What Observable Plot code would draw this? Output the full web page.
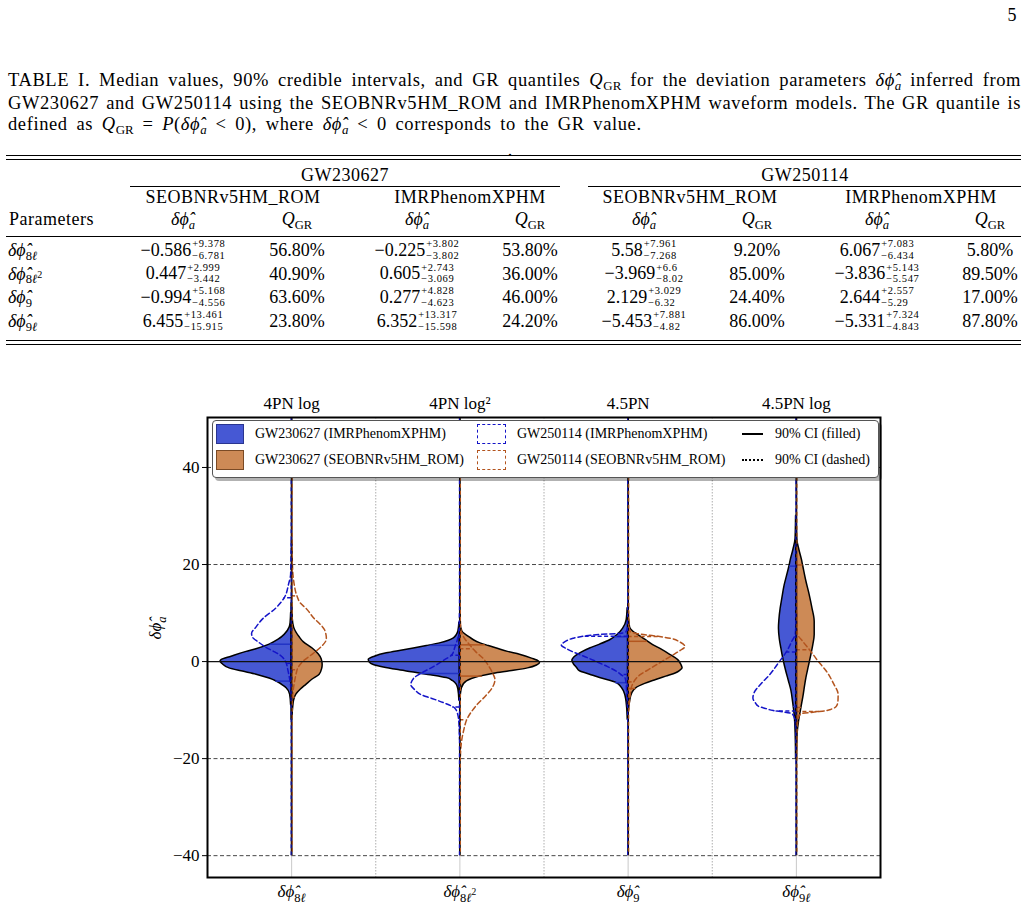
<!DOCTYPE html>
<html>
<head>
<meta charset="utf-8">
<script src="https://cdn.jsdelivr.net/npm/d3@7"></script>
<script src="https://cdn.jsdelivr.net/npm/@observablehq/plot@0.6"></script>
<style>
  html, body { margin: 0; padding: 0; background: #fff; }
  body { position: relative; width: 1029px; height: 913px; overflow: hidden;
         font-family: "Liberation Serif", "Times New Roman", serif; color: #000; }
  .abs { position: absolute; white-space: nowrap; line-height: 1; }
  .ctr { transform: translate(-50%, -50%); }
  .lft { transform: translateY(-50%); }
  .hr { position: absolute; height: 0; border-top: 1px solid #000; }
  .caption { position: absolute; left: 8px; top: 70px; width: 1013px; font-size: 18.5px; line-height: 21.5px; letter-spacing: 0.6px; }
  .caption div { text-align: justify; text-align-last: justify; }
  .caption div.last { text-align-last: left; word-spacing: 3.5px; }
  .sub { font-size: 0.7em; position: relative; top: 0.3em; letter-spacing: 0; }
  .tab { font-size: 18px; }
  .word { letter-spacing: 0.5px; }
  .val { display: inline-flex; align-items: center; font-size: 18px; }
  .scr { display: inline-flex; flex-direction: column; font-size: 10.5px; line-height: 11.8px; letter-spacing: 0.6px; margin-left: 1px; }
  .legend { position: absolute; left: 212px; top: 420px; width: 665px; height: 56px; background: #fff;
            border: 1px solid #555; border-radius: 4px; box-shadow: 3px 3px 0 rgba(0,0,0,0.3); }
  .lg { font-size: 14px; }
  .sw { position: absolute; box-sizing: border-box; }
  #chart { position: absolute; left: 0; top: 380px; }
</style>
</head>
<body>
<script>
// ---------------- parameters ----------------
const pnLabels = ["4PN log", "4PN log²", "4.5PN", "4.5PN log"];
const paramSub = ["8ℓ", "8ℓ", "9", "9ℓ"];
const paramSup = ["", "2", "", ""];
const tableEvents = ["GW230627", "GW250114"];
const tableModels = ["SEOBNRv5HM_ROM", "IMRPhenomXPHM"];

// ---------------- medians, 90% credible bounds, GR quantiles (%) ----------------
const gw230627SeobMed = [-0.586, 0.447, -0.994, 6.455];
const gw230627SeobUp  = [9.378, 2.999, 5.168, 13.461];
const gw230627SeobLo  = [6.781, 3.442, 4.556, 15.915];
const gw230627SeobQ   = [56.8, 40.9, 63.6, 23.8];

const gw230627ImrMed = [-0.225, 0.605, 0.277, 6.352];
const gw230627ImrUp  = [3.802, 2.743, 4.828, 13.317];
const gw230627ImrLo  = [3.802, 3.069, 4.623, 15.598];
const gw230627ImrQ   = [53.8, 36.0, 46.0, 24.2];

const gw250114SeobMed = [5.58, -3.969, 2.129, -5.453];
const gw250114SeobUp  = [7.961, 6.6, 3.029, 7.881];
const gw250114SeobLo  = [7.268, 8.02, 6.32, 4.82];
const gw250114SeobQ   = [9.2, 85.0, 24.4, 86.0];

const gw250114ImrMed = [6.067, -3.836, 2.644, -5.331];
const gw250114ImrUp  = [7.083, 5.143, 2.557, 7.324];
const gw250114ImrLo  = [6.434, 5.547, 5.29, 4.843];
const gw250114ImrQ   = [5.8, 89.5, 17.0, 87.8];

// ---------------- posterior density profiles: [value, density] per parameter ----------------
const kdeGw230627Imr = [
  [[10,0.5],[8,1],[7,2],[5.5,7],[4.5,13],[3.5,22],[2.5,36],[2,45],[1,60],[0.3,70],[0,71],[-0.5,69],[-1.4,62],[-2,50],[-2.7,35],[-3.5,22],[-4.1,15],[-5,8],[-5.5,5],[-6.8,1.5],[-9,0.5]],
  [[8,0.5],[6.2,1.5],[5.5,3],[4.8,6],[4.3,11],[3.8,19],[3.2,33],[2.7,46],[2.2,60],[1.7,73],[1,85],[0.35,91],[-0.2,90],[-0.7,86],[-1.2,76],[-1.7,63],[-2.2,48],[-2.7,33],[-3.1,21],[-3.4,13],[-4,7],[-4.8,3],[-5.8,1.5],[-8,0.5]],
  [[11,0.5],[8.5,1.5],[6.8,5],[5.6,10],[4.4,18],[3.5,28],[2.7,38],[1.8,47],[0.8,54],[0.2,55.7],[-0.6,54],[-1.3,51],[-2,48],[-2.7,38],[-3.4,28],[-3.9,19],[-4.4,11.7],[-5.5,6],[-6.8,3],[-9.5,1],[-12,0.4]],
  [[30,0.3],[25.3,0.8],[23,3],[21,5.5],[19.8,6.7],[17.5,9.5],[15.7,11.7],[13,14],[10.9,15.7],[8.5,17],[6.8,17.4],[4.5,16.5],[2.7,15],[1,13.5],[-0.7,11.7],[-2.5,9.5],[-4.1,7.4],[-6,5],[-8.2,3.4],[-11,1.7],[-15,0.7],[-20,0.3]]
];
const kdeGw230627Seob = [
  [[12,0.5],[9,1],[7,2.5],[5,8],[4,12],[2.7,21],[1.5,27],[0.5,30],[-0.7,31],[-1.5,30.5],[-2.7,28],[-3.7,21],[-4.8,14.7],[-5.8,9],[-6.8,4.7],[-8,2.5],[-9.6,1.5],[-12,0.5]],
  [[8,0.5],[6.2,2.5],[5.1,9],[4.4,14],[3.8,20],[3.2,29],[2.7,37],[2,48],[1.4,60],[0.6,72],[0,79],[-0.35,80],[-0.8,77],[-1.4,68],[-2,50],[-2.5,34],[-3.1,20],[-3.6,12],[-4.1,7],[-5.5,2],[-8,0.5]],
  [[10,0.5],[7,2],[6.2,5],[5.5,10],[4.5,17],[3.4,25],[2.4,34],[1.4,42],[0.3,50],[-0.6,53],[-1.4,54.4],[-1.9,52],[-2.4,48],[-3.1,38],[-3.8,28],[-4.6,17],[-5.5,8],[-6.6,4],[-8.2,2],[-11,0.5]],
  [[30,0.3],[25.3,0.8],[23,3],[21,5.5],[19.8,6.7],[16.5,10],[13.7,13.3],[11,16],[8.2,18.3],[5.5,18.3],[3.5,17],[1.4,15],[-1,12.5],[-3.4,10],[-5,8.7],[-6.8,7.4],[-9.6,5],[-12.3,2.7],[-15,1.2],[-20,0.4]]
];
const kdeGw250114Imr = [
  [[25,0.3],[18,1],[16,3],[13.3,7],[11,16],[8.8,29],[7,36],[5.8,40],[5,39],[4,33],[3.1,27],[2,17],[1.4,12],[0,6],[-1.5,4],[-3,2.5],[-5,1],[-8,0.3]],
  [[10,0.3],[6,1],[4.5,2.5],[3,5],[1.4,8],[0.3,16],[-1,26],[-2.2,37],[-3.4,46],[-4.8,49],[-5.8,45],[-6.8,39],[-7.6,28],[-8.5,16],[-9.6,5],[-11,2],[-12.6,1],[-16,0.4]],
  [[12,0.3],[7.5,0.6],[6.2,2],[5.8,8],[5.6,28],[5.3,42],[4.8,55],[4.1,63],[3.4,66.7],[2.7,62],[2,55],[1,43],[0,31.7],[-1,21],[-2,11.7],[-2.7,7],[-3.4,3],[-4.5,2],[-6.2,1.5],[-10,0.4]],
  [[10,0.3],[5.8,1],[4,5],[2,10],[0,17],[-2.7,26.7],[-4.5,35],[-6.2,41.7],[-7.5,43.4],[-8.5,41],[-9.2,38],[-9.7,30],[-10.1,23],[-10.4,12],[-10.8,4],[-12,1.5],[-15,0.5],[-20,0.3]]
];
const kdeGw250114Seob = [
  [[25,0.3],[19,1],[16,2.5],[13.7,5],[12,9],[10.9,14.7],[9,22],[7.8,28],[6.5,33],[4.7,34.7],[3.1,29.7],[1.6,21],[0,11],[-1.4,6],[-2.5,4.5],[-4,3],[-6,1.5],[-9,0.5]],
  [[10,0.3],[6.6,1],[5,4],[3.4,10],[2,16],[0.7,23],[-1,29],[-2.5,33],[-3.7,35],[-5.5,32],[-7,26],[-8.9,17],[-10.5,11],[-11.9,7],[-14,4],[-16,2],[-20,0.4]],
  [[12,0.3],[7.5,0.8],[6.2,2],[5.8,8],[5.5,18],[5.2,30],[4.8,42],[4,52],[3.1,56.7],[2.3,52],[1.4,45],[0.3,36],[-0.7,28],[-1.7,20],[-2.7,12],[-3.5,8],[-4.4,5],[-5.5,3],[-7,2],[-10,0.5]],
  [[10,0.3],[5.8,1],[4,7],[2.4,13.3],[0,22],[-2,30],[-4.5,37],[-6.8,41.7],[-8.2,41.5],[-9.2,40],[-9.8,35],[-10.1,30],[-10.4,18],[-10.8,4],[-12,1.5],[-15,0.5],[-20,0.3]]
];
// full sampled range of every posterior (thin tails)
const tailRange = [-40, 55];
const yTicks = [-40, -20, 0, 20, 40];

// ---------------- helpers ----------------
const minus = v => (v < 0 ? "−" : "") + Math.abs(v);
const PHI = "δϕ\u0302";          // delta phi-hat
const phiHat = `<i>${PHI}</i>`;
function paramHtml(i) {
  const sup = paramSup[i] ? `<span style="font-size:0.8em;position:relative;top:-0.5em">${paramSup[i]}</span>` : "";
  return `${phiHat}<span class="sub">${paramSub[i].replace("ℓ", "<i>ℓ</i>")}${sup}</span>`;
}
function place(html, x, y, cls = "ctr", extraCls = "") {
  const d = document.createElement("div");
  d.className = `abs ${cls} ${extraCls}`;
  d.style.left = x + "px";
  d.style.top = y + "px";
  d.innerHTML = html;
  document.body.appendChild(d);
  return d;
}
function hline(x1, x2, y) {
  const d = document.createElement("div");
  d.className = "hr";
  d.style.left = x1 + "px"; d.style.width = (x2 - x1) + "px"; d.style.top = y + "px";
  document.body.appendChild(d);
}

// ---------------- page number and caption ----------------
place("5", 1012, 15, "ctr", "tab");
const cap = document.createElement("div");
cap.className = "caption";
cap.innerHTML = `
<div>TABLE I. Median values, 90% credible intervals, and GR quantiles <i>Q</i><span class="sub">GR</span> for the deviation parameters ${phiHat}<span class="sub"><i>a</i></span> inferred from</div>
<div>GW230627 and GW250114 using the SEOBNRv5HM_ROM and IMRPhenomXPHM waveform models. The GR quantile is</div>
<div class="last">defined as <i>Q</i><span class="sub">GR</span> = <i>P</i>(${phiHat}<span class="sub"><i>a</i></span> &lt; 0), where ${phiHat}<span class="sub"><i>a</i></span> &lt; 0 corresponds to the GR value.</div>`;
document.body.appendChild(cap);

// ---------------- table ----------------
const tableColumns = [
  {med: gw230627SeobMed, up: gw230627SeobUp, lo: gw230627SeobLo, q: gw230627SeobQ},
  {med: gw230627ImrMed,  up: gw230627ImrUp,  lo: gw230627ImrLo,  q: gw230627ImrQ},
  {med: gw250114SeobMed, up: gw250114SeobUp, lo: gw250114SeobLo, q: gw250114SeobQ},
  {med: gw250114ImrMed,  up: gw250114ImrUp,  lo: gw250114ImrLo,  q: gw250114ImrQ}
];
const valX = [183, 417, 644, 877];
const qX = [297, 530, 757, 990];
const modelX = [233, 470, 690, 921];
const eventX = [345, 805];
const rowY = [250, 273.7, 297.4, 321.1];

hline(6, 1021, 155);
hline(6, 1021, 159);
tableEvents.forEach((e, j) => place(e, eventX[j], 175, "ctr", "tab word"));
hline(130, 560, 186);
hline(588, 1021, 186);
tableColumns.forEach((c, j) => {
  place(tableModels[j % 2], modelX[j], 197, "ctr", "tab word");
  place(`${phiHat}<span class="sub"><i>a</i></span>`, valX[j], 219, "ctr", "tab");
  place(`<i>Q</i><span class="sub">GR</span>`, qX[j], 219, "ctr", "tab");
  c.med.forEach((m, i) => {
    place(`<span>${minus(m)}</span><span class="scr"><span>+${c.up[i]}</span><span>−${c.lo[i]}</span></span>`,
          valX[j], rowY[i], "ctr", "val");
    place(c.q[i].toFixed(2) + "%", qX[j], rowY[i], "ctr", "tab");
  });
});
place("Parameters", 9, 219, "lft", "tab word");
paramSub.forEach((s, i) => place(paramHtml(i), 8, rowY[i], "lft", "tab"));
hline(6, 1021, 236);
hline(6, 1021, 340);
hline(6, 1021, 344);
place(".", 510, 150, "ctr", "tab");

// ---------------- violin chart ----------------
const cats = [0, 1, 2, 3];
const densityToWidth = 1 / 168;   // density units -> fraction of category spacing

const violinSeries = [
  {key: "GW230627 (IMRPhenomXPHM)", kde: kdeGw230627Imr, med: gw230627ImrMed, up: gw230627ImrUp, lo: gw230627ImrLo, side: -1, filled: true},
  {key: "GW230627 (SEOBNRv5HM_ROM)", kde: kdeGw230627Seob, med: gw230627SeobMed, up: gw230627SeobUp, lo: gw230627SeobLo, side: 1, filled: true},
  {key: "GW250114 (IMRPhenomXPHM)", kde: kdeGw250114Imr, med: gw250114ImrMed, up: gw250114ImrUp, lo: gw250114ImrLo, side: -1, filled: false},
  {key: "GW250114 (SEOBNRv5HM_ROM)", kde: kdeGw250114Seob, med: gw250114SeobMed, up: gw250114SeobUp, lo: gw250114SeobLo, side: 1, filled: false}
];
const fillColor = {"GW230627 (IMRPhenomXPHM)": "#4658d4", "GW230627 (SEOBNRv5HM_ROM)": "#cd8a56"};
const edgeColor = {
  "GW230627 (IMRPhenomXPHM)": "#2233c4", "GW230627 (SEOBNRv5HM_ROM)": "#b3561f",
  "GW250114 (IMRPhenomXPHM)": "#1414c8", "GW250114 (SEOBNRv5HM_ROM)": "#b3541e"
};

function interp(profile, y) {
  for (let k = 0; k < profile.length - 1; k++) {
    const [y0, d0] = profile[k], [y1, d1] = profile[k + 1];
    if (y <= y0 && y >= y1) return d0 + (d1 - d0) * (y - y0) / (y1 - y0);
  }
  return 0;
}

const shapeRows = [];
const ciRows = [];
violinSeries.forEach(s => {
  cats.forEach(c => {
    const prof = s.kde[c];
    prof.forEach(([y, d]) => shapeRows.push({key: s.key, filled: s.filled, side: s.side, cat: c, y, w: d * densityToWidth}));
    [s.med[c] - s.lo[c], s.med[c] + s.up[c]].forEach(v =>
      ciRows.push({key: s.key, filled: s.filled, side: s.side, cat: c, y: v, w: interp(prof, v) * densityToWidth}));
  });
});
const edgeX = r => r.cat + r.side * r.w;
const gid = r => r.key + "|" + r.cat;
const paramText = i => PHI + paramSub[i] + paramSup[i];
const yLabelText = PHI + "a";

const chart = Plot.plot({
  width: 1029, height: 533,
  marginLeft: 207, marginRight: 149, marginTop: 37, marginBottom: 36,
  x: {domain: [-0.5, 3.5], axis: null},
  y: {domain: [-44.5, 50.3], axis: null},
  style: {fontFamily: "Liberation Serif, Times New Roman, serif", fontSize: "17px", background: "transparent", overflow: "visible"},
  marks: [
    Plot.ruleX(cats, {x: d => d, stroke: "#bbb", strokeWidth: 0.8}),
    Plot.ruleX(cats.slice(1), {x: d => d - 0.5, stroke: "#999", strokeWidth: 0.8, strokeDasharray: "1.5,1.5"}),
    Plot.ruleY(yTicks.filter(v => v !== 0), {y: d => d, stroke: "#333", strokeWidth: 0.9, strokeDasharray: "4,2.5"}),
    // filled halves
    Plot.areaX(shapeRows.filter(r => r.filled), {
      y: "y", x1: edgeX, x2: "cat", z: gid, fill: r => fillColor[r.key], fillOpacity: 1,
      stroke: "black", strokeWidth: 1.5, curve: "monotone-y"
    }),
    Plot.ruleY(ciRows.filter(r => r.filled), {y: "y", x1: "cat", x2: edgeX, stroke: r => edgeColor[r.key], strokeWidth: 1.5}),
    // dashed halves
    Plot.line(shapeRows.filter(r => !r.filled), {
      y: "y", x: edgeX, z: gid, stroke: r => edgeColor[r.key], strokeWidth: 1.5,
      strokeDasharray: "5,3", curve: "monotone-y"
    }),
    Plot.ruleY(ciRows.filter(r => !r.filled), {y: "y", x1: "cat", x2: edgeX, stroke: r => edgeColor[r.key], strokeWidth: 1.5, strokeDasharray: "4,2.5"}),
    // thin tails along each centre
    Plot.ruleX(cats, {x: d => d, y1: tailRange[0], y2: tailRange[1], stroke: "black", strokeWidth: 1.8, clip: true}),
    Plot.ruleX(cats, {x: d => d, y1: tailRange[0], y2: tailRange[1], dx: -0.5, stroke: edgeColor["GW250114 (IMRPhenomXPHM)"], strokeWidth: 1.1, strokeDasharray: "4,3", clip: true}),
    Plot.ruleX(cats, {x: d => d, y1: tailRange[0], y2: tailRange[1], dx: 0.6, stroke: edgeColor["GW250114 (SEOBNRv5HM_ROM)"], strokeWidth: 1.1, strokeDasharray: "4,3", strokeDashoffset: 3.5, clip: true}),
    Plot.ruleY([0], {stroke: "#111", strokeWidth: 1.3}),
    Plot.frame({stroke: "black", strokeWidth: 2}),
    Plot.axisY({ticks: yTicks, tickSize: 5, tickPadding: 3, fontSize: 17, label: null,
                tickFormat: d => minus(d)}),
    Plot.text(cats, {x: d => d, text: d => pnLabels[d], frameAnchor: "top", lineAnchor: "middle", dy: -14, fontSize: 17}),
    Plot.text(cats, {x: d => d, text: paramText, frameAnchor: "bottom", lineAnchor: "middle", dy: 14, fontSize: 17}),
    Plot.text([yLabelText], {text: d => d, frameAnchor: "left", lineAnchor: "middle", dx: -52, dy: -8, rotate: -90, fontSize: 17})
  ]
});
chart.id = "chart";
document.body.appendChild(chart);

// hatted phi with sub/superscripts in SVG text
function mathTspans(t, sub, sup) {
  t.text(null);
  t.append("tspan").attr("font-style", "italic").text(PHI);
  if (sub === "a") {
    t.append("tspan").attr("dy", 5).attr("font-size", 12.5).attr("font-style", "italic").text("a");
    return;
  }
  const digits = sub.replace("ℓ", "");
  t.append("tspan").attr("dy", 5).attr("font-size", 12.5).text(digits);
  if (sub.includes("ℓ")) t.append("tspan").attr("font-size", 12.5).attr("font-style", "italic").text("ℓ");
  if (sup) t.append("tspan").attr("dy", -7).attr("font-size", 9.5).text(sup);
}
const allParamTexts = cats.map(paramText);
d3.select(chart).selectAll("text").each(function() {
  const s = this.textContent;
  const i = allParamTexts.indexOf(s);
  if (i >= 0) mathTspans(d3.select(this), paramSub[i], paramSup[i]);
  else if (s === yLabelText) mathTspans(d3.select(this), "a", "");
});

// ---------------- legend ----------------
const lg = document.createElement("div");
lg.className = "legend";
document.body.appendChild(lg);
function sw(x, y, w, h, style) {
  const d = document.createElement("div");
  d.className = "sw";
  Object.assign(d.style, {left: x + "px", top: y + "px", width: w + "px", height: h + "px"}, style);
  document.body.appendChild(d);
}
const legendRows = [434, 460];
sw(216, 424, 28, 20, {background: fillColor[violinSeries[0].key], border: "1px solid #2a3590"});
sw(216, 450, 28, 20, {background: fillColor[violinSeries[1].key], border: "1px solid #7a4a25"});
sw(477, 424, 29, 20, {border: `1.6px dashed ${edgeColor[violinSeries[2].key]}`});
sw(477, 450, 29, 20, {border: `1.6px dashed ${edgeColor[violinSeries[3].key]}`});
sw(742, 433, 21, 0, {borderTop: "2px solid #000"});
sw(742, 459, 21, 0, {borderTop: "2px dotted #000"});
violinSeries.forEach((s, j) => place(s.key, j < 2 ? 255 : 517, legendRows[j % 2], "lft", "lg"));
place("90% CI (filled)", 775, legendRows[0], "lft", "lg");
place("90% CI (dashed)", 775, legendRows[1], "lft", "lg");
</script>
</body>
</html>
